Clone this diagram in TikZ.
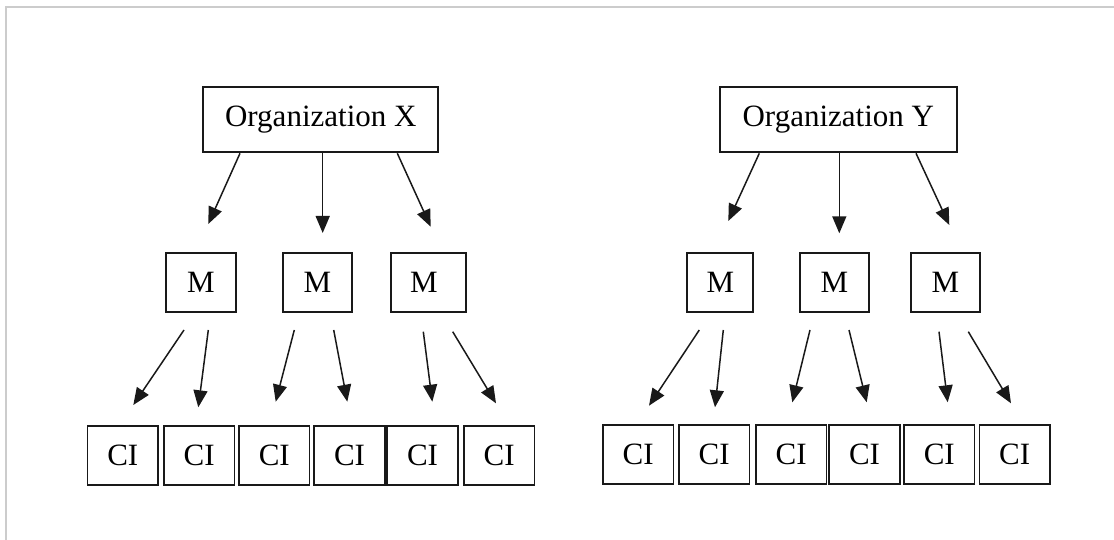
\documentclass[tikz,border=0pt]{standalone}
\usepackage{fontspec}
\setmainfont{Liberation Serif}
\usetikzlibrary{arrows.meta}
\begin{document}
\begin{tikzpicture}[x=1pt,y=-1pt,
  box/.style={draw=black!90, line width=1.7pt, rectangle, inner sep=0pt,
    font=\fontsize{31}{36}\selectfont},
  orgbox/.style={box, minimum height=65pt},
  mbox/.style={box, minimum height=58.7pt},
  cibox/.style={box, minimum width=70.4pt, minimum height=59pt},
  arr/.style={line width=1.5pt, draw=black!90,
    -{Triangle[length=17pt,width=14pt]}},
  frameline/.style={draw=black!20, line width=1.4pt}]
\useasboundingbox (0,0) rectangle (1114,540);
% page edge
\draw[frameline] (6,540) -- (6,7) -- (1114,7);

% ---------- Organization X ----------
\node[orgbox, minimum width=235pt] (ox) at (320.8,119.5) {Organization X};
\node[mbox, minimum width=70.6pt] (xm1) at (201,282.7) {M};
\node[mbox, minimum width=69pt]   (xm2) at (317.5,282.7) {M};
\node[mbox, minimum width=75.6pt] (xm3) at (428.5,282.7) {\hspace*{-9pt}M};
\node[cibox] (xc1) at (122.8,455.3) {CI};
\node[cibox] (xc2) at (199.2,455.3) {CI};
\node[cibox] (xc3) at (274.3,455.3) {CI};
\node[cibox] (xc4) at (349.5,455.3) {CI};
\node[cibox] (xc5) at (422.5,455.3) {CI};
\node[cibox] (xc6) at (499.2,455.3) {CI};

% arrow ends (free-standing connectors)
\coordinate (xa1s) at (240,153.3);   \coordinate (xa1e) at (208.3,224);
\coordinate (xa2s) at (322.7,153.3); \coordinate (xa2e) at (322.7,233);
\coordinate (xa3s) at (397.3,153.3); \coordinate (xa3e) at (430.7,226.7);
\draw[arr] (xa1s) -- (xa1e);
\draw[arr] (xa2s) -- (xa2e);
\draw[arr] (xa3s) -- (xa3e);

\coordinate (xb1s) at (184,330);     \coordinate (xb1e) at (133.3,405);
\coordinate (xb2s) at (208.3,330);   \coordinate (xb2e) at (198.3,407.3);
\coordinate (xb3s) at (294.3,330);   \coordinate (xb3e) at (275.7,401.7);
\coordinate (xb4s) at (333.7,330);   \coordinate (xb4e) at (347.3,401.7);
\coordinate (xb5s) at (423.3,331.7); \coordinate (xb5e) at (432.3,401.7);
\coordinate (xb6s) at (452.7,331.7); \coordinate (xb6e) at (496,403.3);
\foreach \i in {1,...,6} \draw[arr] (xb\i s) -- (xb\i e);

% ---------- Organization Y ----------
\node[orgbox, minimum width=236.7pt] (oy) at (838.3,119.2) {Organization Y};
\node[mbox, minimum width=66pt] (ym1) at (720.3,282.7) {M};
\node[mbox, minimum width=69pt] (ym2) at (834.5,282.7) {M};
\node[mbox, minimum width=69pt] (ym3) at (945.5,282.7) {M};
\node[cibox] (yc1) at (638.2,454.2) {CI};
\node[cibox] (yc2) at (714.2,454.2) {CI};
\node[cibox] (yc3) at (791.2,454.2) {CI};
\node[cibox] (yc4) at (864.5,454.2) {CI};
\node[cibox] (yc5) at (939.3,454.2) {CI};
\node[cibox] (yc6) at (1014.7,454.2) {CI};

\coordinate (ya1s) at (759.3,153.3); \coordinate (ya1e) at (728.3,221);
\coordinate (ya2s) at (839.3,153.3); \coordinate (ya2e) at (839.3,233.3);
\coordinate (ya3s) at (916,153.3);   \coordinate (ya3e) at (949.3,225);
\draw[arr] (ya1s) -- (ya1e);
\draw[arr] (ya2s) -- (ya2e);
\draw[arr] (ya3s) -- (ya3e);

\coordinate (yb1s) at (699.3,330);   \coordinate (yb1e) at (649,405.7);
\coordinate (yb2s) at (723.3,330);   \coordinate (yb2e) at (715,407.3);
\coordinate (yb3s) at (810,330);     \coordinate (yb3e) at (792.3,402.3);
\coordinate (yb4s) at (849,330);     \coordinate (yb4e) at (866.7,402.3);
\coordinate (yb5s) at (939,331.7);   \coordinate (yb5e) at (947.7,402.3);
\coordinate (yb6s) at (968.3,331.7); \coordinate (yb6e) at (1011,403.3);
\foreach \i in {1,...,6} \draw[arr] (yb\i s) -- (yb\i e);
\end{tikzpicture}
\end{document}
